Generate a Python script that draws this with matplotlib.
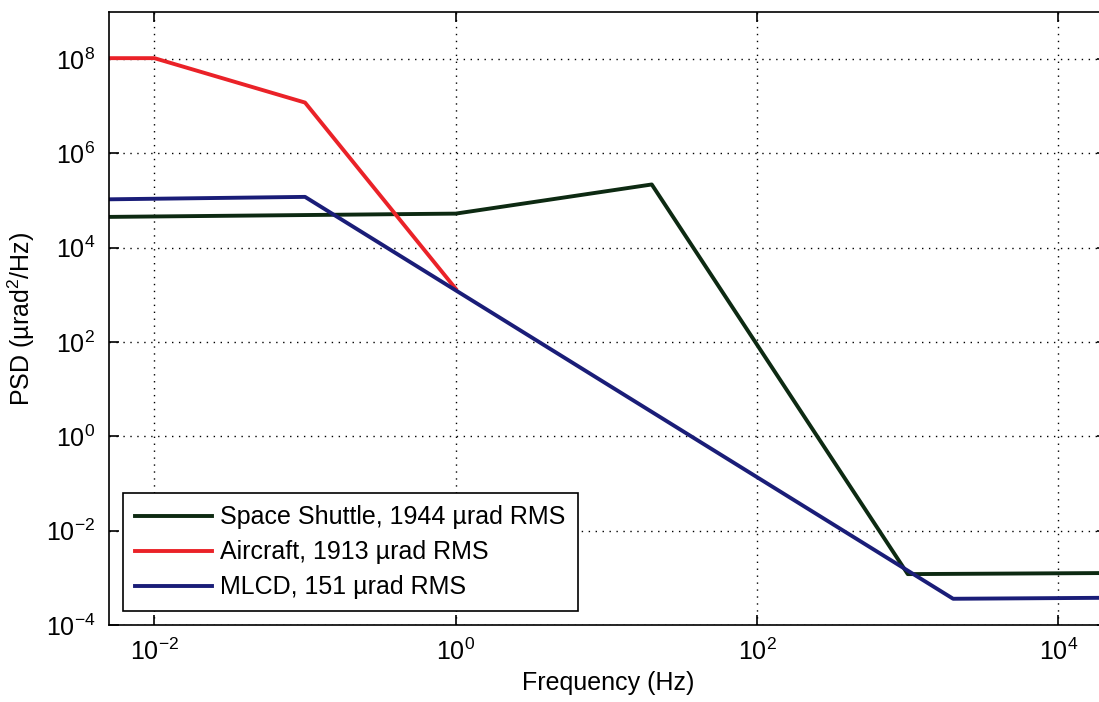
import matplotlib
matplotlib.use("Agg")
import matplotlib.pyplot as plt
from matplotlib.ticker import NullLocator

plt.rcParams['font.family'] = ['Liberation Sans', 'DejaVu Sans']
plt.rcParams['mathtext.fontset'] = 'custom'
plt.rcParams['mathtext.rm'] = 'Liberation Sans'

# Space Shuttle jitter PSD
shuttle_f = [1e-3, 1.0, 20.0, 1000.0, 1e5]
shuttle_psd = [4.3e4, 5.3e4, 2.2e5, 1.2e-3, 1.3e-3]

# Aircraft jitter PSD
aircraft_f = [1e-3, 1e-2, 1e-1, 1.0]
aircraft_psd = [1.05e8, 1.05e8, 1.2e7, 1.35e3]

# MLCD jitter PSD
mlcd_f = [1e-3, 1e-1, 2000.0, 1e5]
mlcd_psd = [1.0e5, 1.2e5, 3.6e-4, 3.9e-4]

labels = ['Space Shuttle, 1944 \u00b5rad RMS',
          'Aircraft, 1913 \u00b5rad RMS',
          'MLCD, 151 \u00b5rad RMS']

fig = plt.figure(figsize=(10.99, 7.02), dpi=100)
ax = fig.add_axes([109 / 1099, 77 / 702, 998 / 1099, 613 / 702])

ax.loglog(shuttle_f, shuttle_psd, color='#0d2a12', lw=2.8, label=labels[0])
ax.loglog(aircraft_f, aircraft_psd, color='#ea2228', lw=2.8, label=labels[1])
ax.loglog(mlcd_f, mlcd_psd, color='#1a1d78', lw=2.8, label=labels[2])

ax.set_xticks([1e-2, 1e0, 1e2, 1e4])
ax.set_yticks([1e-4, 1e-2, 1e0, 1e2, 1e4, 1e6, 1e8])
ax.xaxis.set_minor_locator(NullLocator())
ax.yaxis.set_minor_locator(NullLocator())
ax.set_xlim(5e-3, 2.1e4)
ax.set_ylim(1e-4, 1e9)
ax.tick_params(which='major', direction='in', length=7, width=1.2,
               labelsize=18, top=True, right=True, pad=10)
ax.grid(True, which='major', color='black', linestyle=(0, (1, 4)), lw=1.0)
for s in ax.spines.values():
    s.set_linewidth(1.2)

ax.set_xlabel('Frequency (Hz)', fontsize=18, labelpad=4)
ax.set_ylabel('PSD (\u00b5rad$^2$/Hz)', fontsize=18, labelpad=6)

leg = ax.legend(loc='lower left', bbox_to_anchor=(0.0, 0.0), fontsize=18,
                handlelength=3.1, frameon=True, fancybox=False,
                edgecolor='black', framealpha=1, borderpad=0.48,
                labelspacing=0.44, handletextpad=0.32, borderaxespad=0.55)
leg.get_frame().set_linewidth(1.2)

fig.savefig('out.png', dpi=100)
